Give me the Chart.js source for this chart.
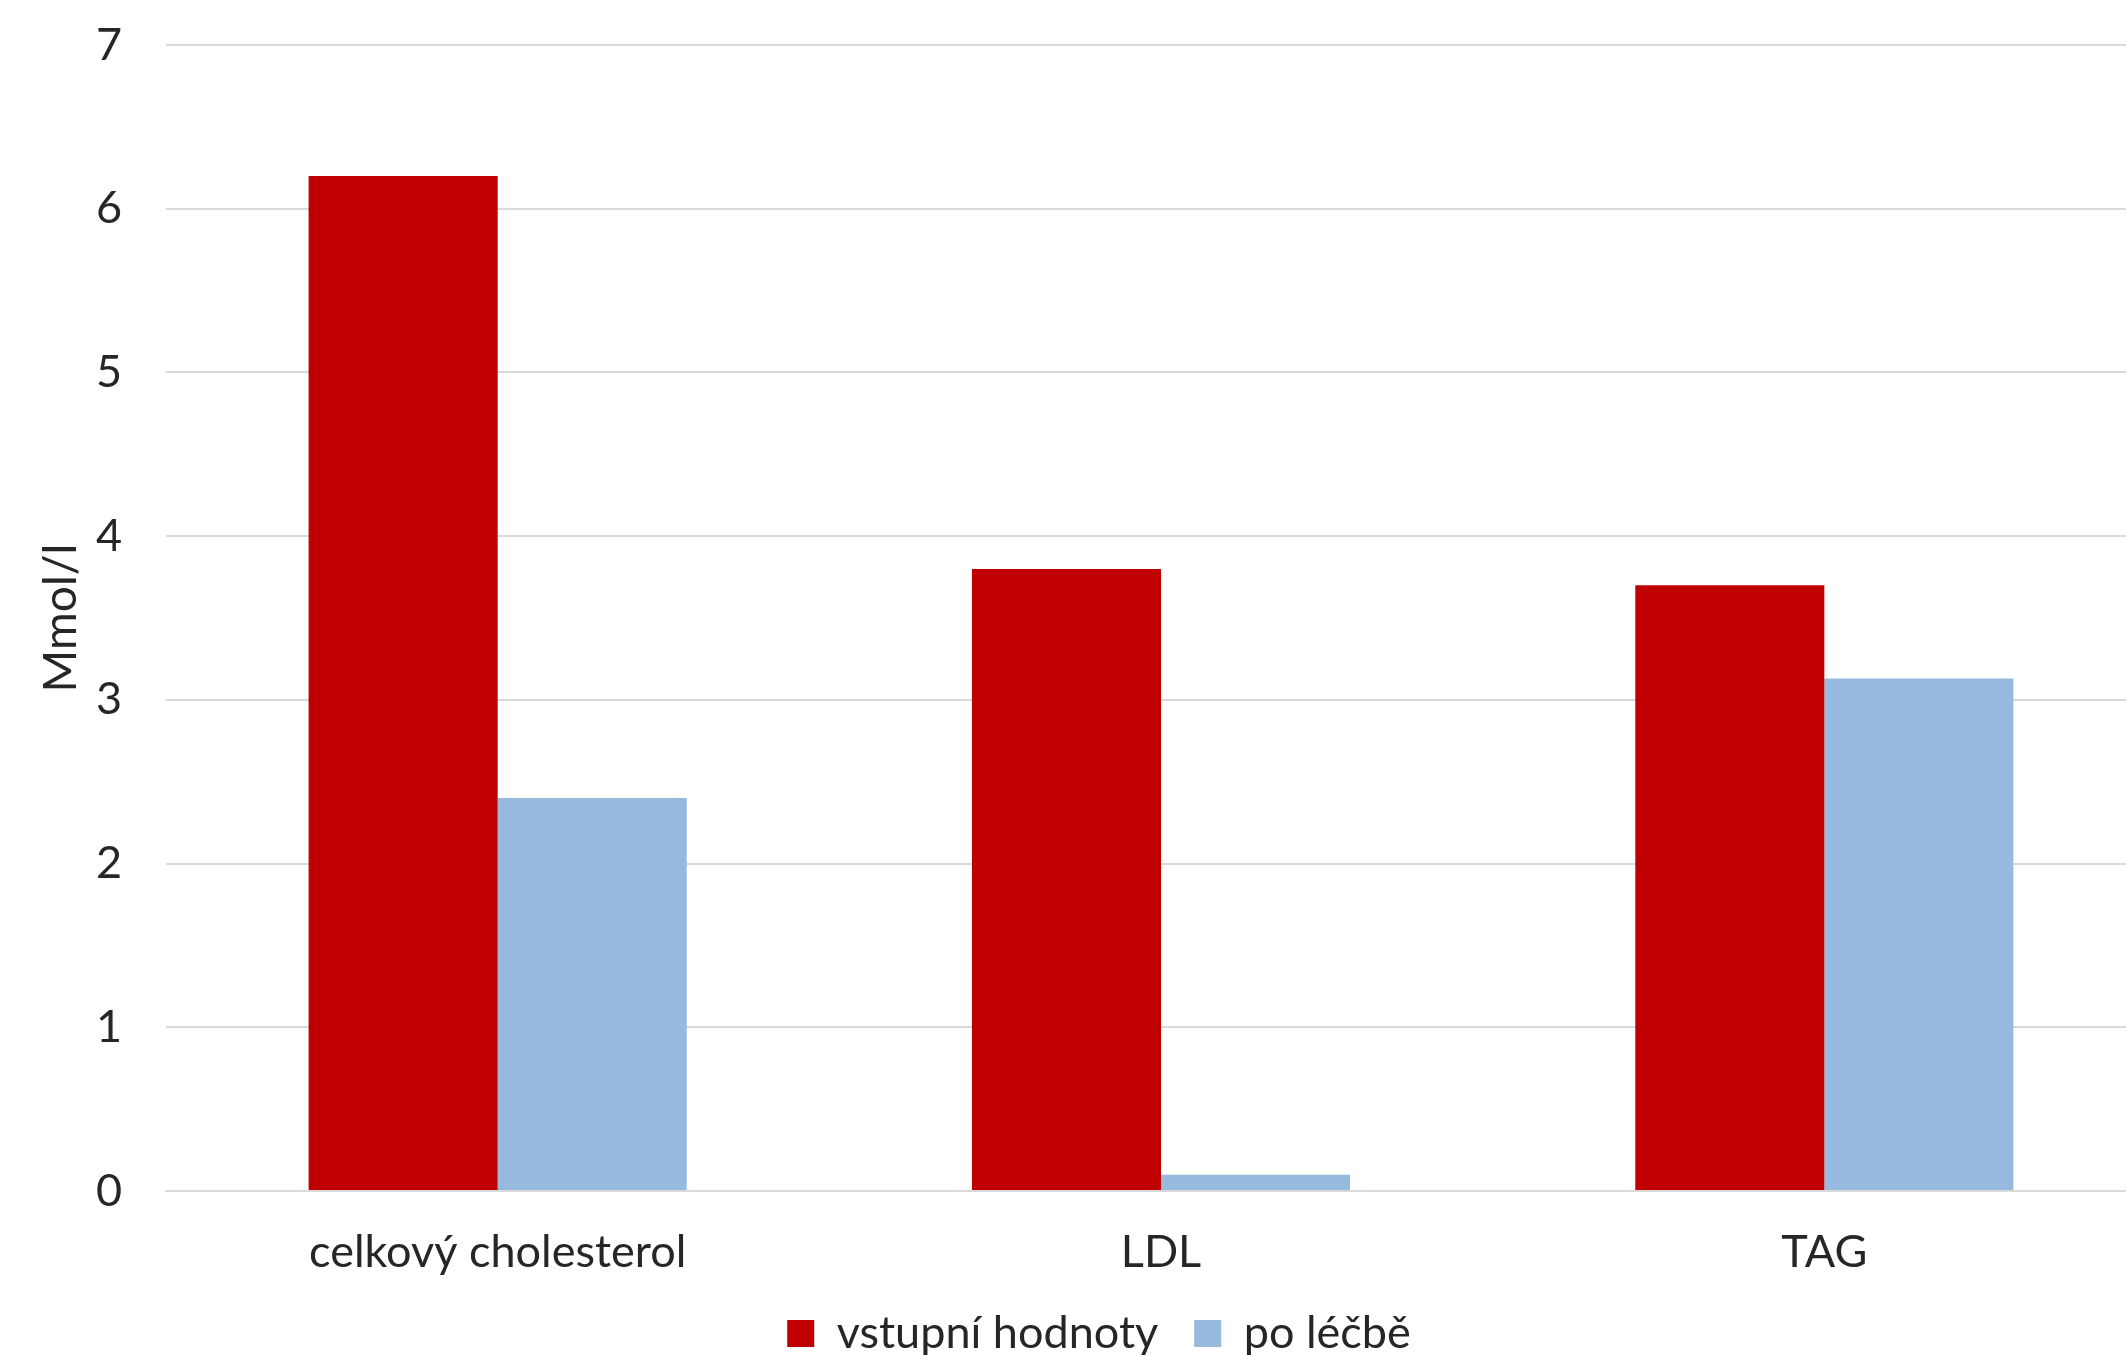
<!DOCTYPE html>
<html>
<head>
<meta charset="utf-8">
<script src="https://cdn.jsdelivr.net/npm/chart.js@4"></script>
<style>
    html, body { margin: 0; padding: 0; background: #fff; overflow: hidden; }
    #wrap { width: 2198px; height: 1392px; margin-top: -26px; position: relative; }
</style>
</head>
<body>
<div id="wrap"><canvas id="lipidChart"></canvas></div>
<script>
// Données du graphique
const categories = ['celkový cholesterol', 'LDL', 'TAG'];
const seriesNames = ['vstupní hodnoty', 'po léčbě'];
const vstupniHodnoty = [6.2, 3.8, 3.7];
const poLecbe = [2.4, 0.1, 3.13];
const yTicks = [0, 1, 2, 3, 4, 5, 6, 7];

const FONT = "Lato, 'Open Sans', sans-serif";
const TEXT = '#262626';
const GRID = '#d9d9d9';

Chart.defaults.font.family = FONT;
Chart.defaults.color = TEXT;

new Chart(document.getElementById('lipidChart'), {
    type: 'bar',
    data: {
        labels: categories,
        datasets: [
            {
                label: seriesNames[0],
                data: vstupniHodnoty,
                backgroundColor: '#c00000',
                borderWidth: 0
            },
            {
                label: seriesNames[1],
                data: poLecbe,
                backgroundColor: '#97b9e0',
                borderWidth: 0
            }
        ]
    },
    options: {
        responsive: true,
        maintainAspectRatio: false,
        animation: false,
        layout: {
            padding: { top: 24, right: 0, bottom: 0, left: 0 }
        },
        datasets: {
            bar: { categoryPercentage: 0.57, barPercentage: 1.0 }
        },
        plugins: {
            legend: {
                position: 'bottom',
                labels: {
                    font: { size: 45 },
                    color: TEXT,
                    boxWidth: 27,
                    boxHeight: 27,
                    padding: 36
                }
            },
            tooltip: { enabled: false }
        },
        scales: {
            x: {
                grid: { display: false },
                border: { display: true, color: GRID, width: 2 },
                ticks: { font: { size: 45 }, color: TEXT, padding: 26 },
                afterFit(scale) { scale.height = 84; }
            },
            y: {
                min: 0,
                max: 7,
                afterBuildTicks(scale) { scale.ticks = yTicks.map(v => ({ value: v })); },
                grid: { color: GRID, lineWidth: 2, drawTicks: false },
                border: { display: false },
                ticks: { font: { size: 45 }, color: TEXT, padding: 44 },
                title: {
                    display: true,
                    text: 'Mmol/l',
                    font: { size: 46 },
                    color: TEXT,
                    padding: { top: 34, bottom: 0 }
                },
                afterFit(scale) { scale.width = 166; }
            },
            // marge droite (graphique coupé à droite comme l'original)
            yRight: {
                position: 'right',
                grid: { display: false },
                border: { display: false },
                ticks: { display: false },
                afterFit(scale) { scale.width = 42; }
            }
        }
    }
});
</script>
</body>
</html>
